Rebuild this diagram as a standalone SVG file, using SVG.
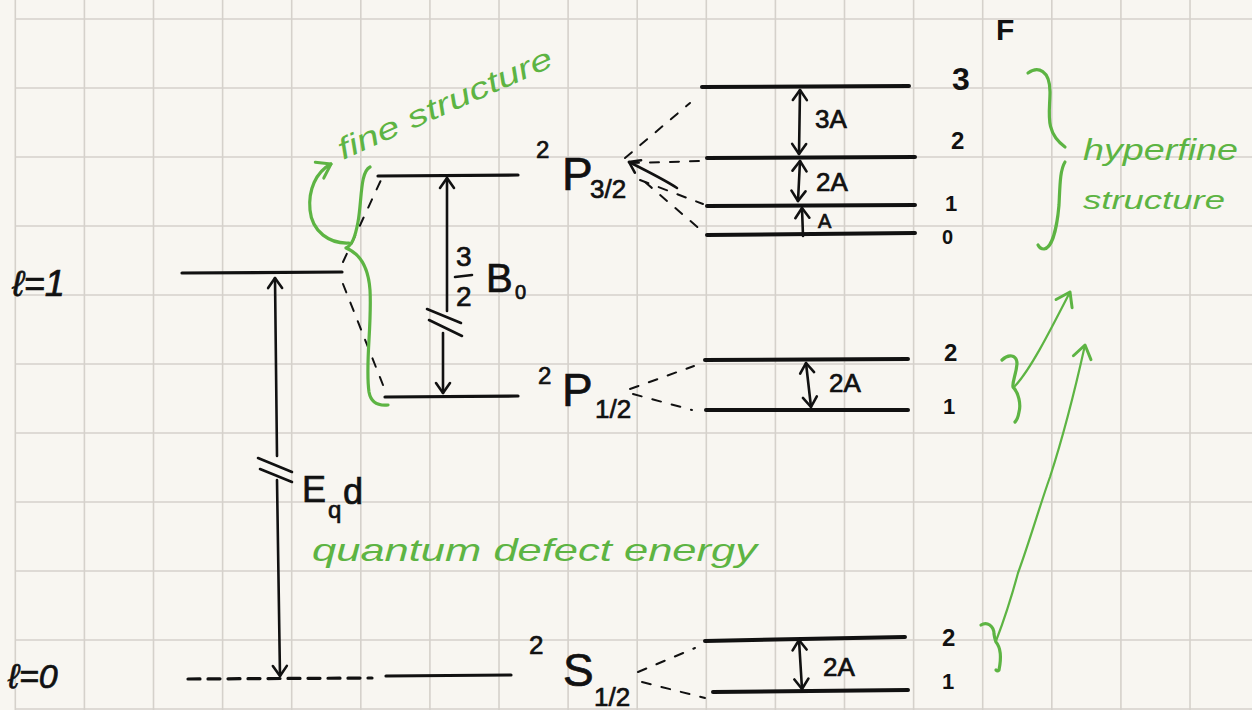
<svg xmlns="http://www.w3.org/2000/svg" width="1252" height="710" viewBox="0 0 1252 710">
<defs>
<style>
.grid{stroke:#d5d1cb;stroke-width:1.6;fill:none}
.lvl{stroke:#111;stroke-width:3.2;fill:none;stroke-linecap:round}
.hf{stroke:#111;stroke-width:4;fill:none;stroke-linecap:round}
.dash{stroke:#111;stroke-width:2;fill:none;stroke-dasharray:9 11;stroke-linecap:round}
.arr{stroke:#111;stroke-width:2.6;fill:none;stroke-linecap:round;stroke-linejoin:round}
.g{stroke:#5db443;stroke-width:3.2;fill:none;stroke-linecap:round;stroke-linejoin:round}
.gt{stroke:#5db443;stroke-width:2.2;fill:none;stroke-linecap:round;stroke-linejoin:round}
.k{fill:#111;stroke:#111;stroke-width:0.7;font-family:"Liberation Sans","DejaVu Sans",sans-serif}
.kb{fill:#111;font-family:"Liberation Sans","DejaVu Sans",sans-serif;font-weight:bold}
.gx{fill:#5db443;font-family:"Liberation Sans","DejaVu Sans",sans-serif;font-style:italic}
</style>
<marker id="ah" viewBox="-12 -9 14 18" markerWidth="14" markerHeight="18" refX="0" refY="0" orient="auto-start-reverse" markerUnits="userSpaceOnUse">
<path d="M-10,-7 L0,0 L-10,7" fill="none" stroke="#111" stroke-width="2.6" stroke-linecap="round" stroke-linejoin="round"/>
</marker>
<marker id="gh" viewBox="-16 -11 18 22" markerWidth="18" markerHeight="22" refX="0" refY="0" orient="auto" markerUnits="userSpaceOnUse">
<path d="M-13,-9 L0,0 L-13,9" fill="none" stroke="#5db443" stroke-width="3" stroke-linecap="round" stroke-linejoin="round"/>
</marker>
</defs>
<rect width="1252" height="710" fill="#f8f6f1"/>
<g id="grid">
<path class="grid" d="M15.3,0V710M84.4,0V710M153.5,0V710M222.6,0V710M291.7,0V710M360.8,0V710M429.9,0V710M499,0V710M568.1,0V710M637.2,0V710M706.3,0V710M775.4,0V710M844.5,0V710M913.6,0V710M982.7,0V710M1051.8,0V710M1120.9,0V710M1190,0V710"/>
<path class="grid" d="M15,19H1252M15,88H1252M15,157H1252M15,226H1252M15,295H1252M15,364H1252M15,433H1252M15,502H1252M15,571H1252M15,640H1252M15,709H1252"/>
</g>

<g id="l1">
<text class="k" x="12" y="296" font-size="36" font-style="italic">ℓ=1</text>
<path class="lvl" d="M182,273 L342,272"/>
</g>
<g id="l0">
<text class="k" x="8" y="688" font-size="34" font-style="italic">ℓ=0</text>
<path class="lvl" d="M188,679 L372,678" stroke-dasharray="12 8" stroke-width="2"/>
<path class="lvl" d="M386,676 L511,675"/>
</g>

<g id="P32">
<path class="lvl" d="M378,176 L518,175"/>
<text class="k"><tspan x="536" y="158" font-size="24">2</tspan><tspan x="562" y="190" font-size="46">P</tspan><tspan x="590" y="198" font-size="26">3/2</tspan></text>
</g>
<g id="P12">
<path class="lvl" d="M385,397 L518,396"/>
<text class="k"><tspan x="538" y="384" font-size="24">2</tspan><tspan x="562" y="406" font-size="46">P</tspan><tspan x="595" y="418" font-size="26">1/2</tspan></text>
</g>
<g id="S12">
<text class="k"><tspan x="529" y="654" font-size="26">2</tspan><tspan x="563" y="686" font-size="46">S</tspan><tspan x="594" y="706" font-size="26">1/2</tspan></text>
</g>

<g id="hfP32">
<path class="hf" d="M702,87 L909,86"/>
<path class="hf" d="M707,158 L915,157"/>
<path class="hf" d="M707,206 L915,205"/>
<path class="hf" d="M707,235 L915,233"/>
<text class="k" x="815" y="128" font-size="26">3A</text>
<text class="k" x="816" y="191" font-size="26">2A</text>
<text class="k" x="818" y="228" font-size="20">A</text>
</g>
<g id="hfP12">
<path class="hf" d="M705,360 L908,359"/>
<path class="hf" d="M706,410 L908,410"/>
<text class="k" x="829" y="392" font-size="26">2A</text>
</g>
<g id="hfS12">
<path class="hf" d="M705,641 L905,637"/>
<path class="hf" d="M713,692 L908,690"/>
<text class="k" x="823" y="676" font-size="26">2A</text>
</g>

<g id="Flabels">
<text class="kb" x="996" y="40" font-size="30">F</text>
<text class="kb" x="952" y="90" font-size="32">3</text>
<text class="kb" x="951" y="149" font-size="24">2</text>
<text class="kb" x="945" y="211" font-size="22">1</text>
<text class="kb" x="942" y="244" font-size="20">0</text>
<text class="kb" x="944" y="361" font-size="24">2</text>
<text class="kb" x="943" y="414" font-size="22">1</text>
<text class="kb" x="942" y="646" font-size="24">2</text>
<text class="kb" x="942" y="689" font-size="22">1</text>
</g>

<g id="labels">
<text class="k"><tspan x="456" y="266" font-size="28">3</tspan><tspan x="456" y="306" font-size="28">2</tspan></text>
<path class="arr" d="M455,277 L472,275"/>
<text class="k"><tspan x="486" y="292" font-size="40">B</tspan><tspan x="515" y="299" font-size="20">0</tspan></text>
<text class="k"><tspan x="302" y="502" font-size="36">E</tspan><tspan x="328" y="518" font-size="24">q</tspan><tspan x="343" y="504" font-size="36">d</tspan></text>
</g>

<g id="greenLabels">
<text class="gx" transform="translate(343,160) rotate(-24)" font-size="30" textLength="232" lengthAdjust="spacingAndGlyphs">fine structure</text>
<text class="gx" x="1083" y="160" font-size="30" textLength="155" lengthAdjust="spacingAndGlyphs">hyperfine</text>
<text class="gx" x="1083" y="209" font-size="26" textLength="142" lengthAdjust="spacingAndGlyphs">structure</text>
<text class="gx" x="312" y="561" font-size="32" textLength="445" lengthAdjust="spacingAndGlyphs">quantum defect energy</text>
</g>

<g id="connectors">
<path class="dash" d="M343,262 L381,180"/>
<path class="dash" d="M343,284 L383,385"/>
<path class="arr" d="M275,278 L277,456" marker-start="url(#ah)"/>
<path class="arr" d="M277,480 L280,676" marker-end="url(#ah)"/>
<path class="arr" d="M258,458 L292,472 M260,469 L292,482" stroke-width="3.2"/>
<path class="arr" d="M447,178 L447,311" marker-start="url(#ah)"/>
<path class="arr" d="M443,333 L443,393" marker-end="url(#ah)"/>
<path class="arr" d="M427,309 L461,323 M429,320 L462,336" stroke-width="3.2"/>
<path class="dash" d="M625,158 L690,103"/>
<path class="dash" d="M630,163 L702,161"/>
<path class="dash" d="M640,180 L703,204"/>
<path class="dash" d="M645,182 L702,231"/>
<path class="arr" d="M677,188 C665,180 645,170 629,162" marker-end="url(#ah)"/>
<path class="dash" d="M630,389 L694,366"/>
<path class="dash" d="M633,394 L692,410"/>
<path class="dash" d="M638,672 L695,648"/>
<path class="dash" d="M642,682 L705,698"/>
<path class="arr" d="M800,90 L799,154" marker-start="url(#ah)" marker-end="url(#ah)"/>
<path class="arr" d="M800,161 L798,201" marker-start="url(#ah)" marker-end="url(#ah)"/>
<path class="arr" d="M802,208 L803,236" marker-start="url(#ah)"/>
<path class="arr" d="M806,363 L811,407" marker-start="url(#ah)" marker-end="url(#ah)"/>
<path class="arr" d="M799,640 L802,689" marker-start="url(#ah)" marker-end="url(#ah)"/>
<path class="g" d="M370,167 C360,172 362,200 358,222 C355,238 352,245 346,248 C356,252 368,262 370,290 C372,325 365,365 369,392 C371,403 378,406 388,405"/>
<path class="g" d="M349,243 C330,244 312,232 310,210 C308,190 316,172 331,164" marker-end="url(#gh)"/>
<path class="g" d="M1028,73 C1038,66 1050,70 1050,92 C1050,112 1044,132 1065,147"/>
<path class="g" d="M1065,162 C1060,170 1060,185 1059,205 C1057,228 1052,248 1044,249 C1041,249 1039,247 1038,245"/>
<path class="g" d="M1002,360 C1008,354 1017,354 1017,364 C1016,375 1012,382 1013,387 C1019,393 1021,405 1019,412 C1018,418 1016,421 1015,422"/>
<path class="gt" d="M1015,386 C1030,370 1048,335 1070,292" marker-end="url(#gh)" stroke-width="2.8"/>
<path class="g" d="M981,625 C987,621 994,626 994,634 C995,640 996,642 996,642 C1001,648 1001,660 999,670 C998,671 997,671 996,670"/>
<path class="gt" d="M996,641 C1006,615 1012,595 1018,573 C1030,540 1040,505 1050,477 C1062,440 1075,390 1085,345" marker-end="url(#gh)"/>
</g>
</svg>
